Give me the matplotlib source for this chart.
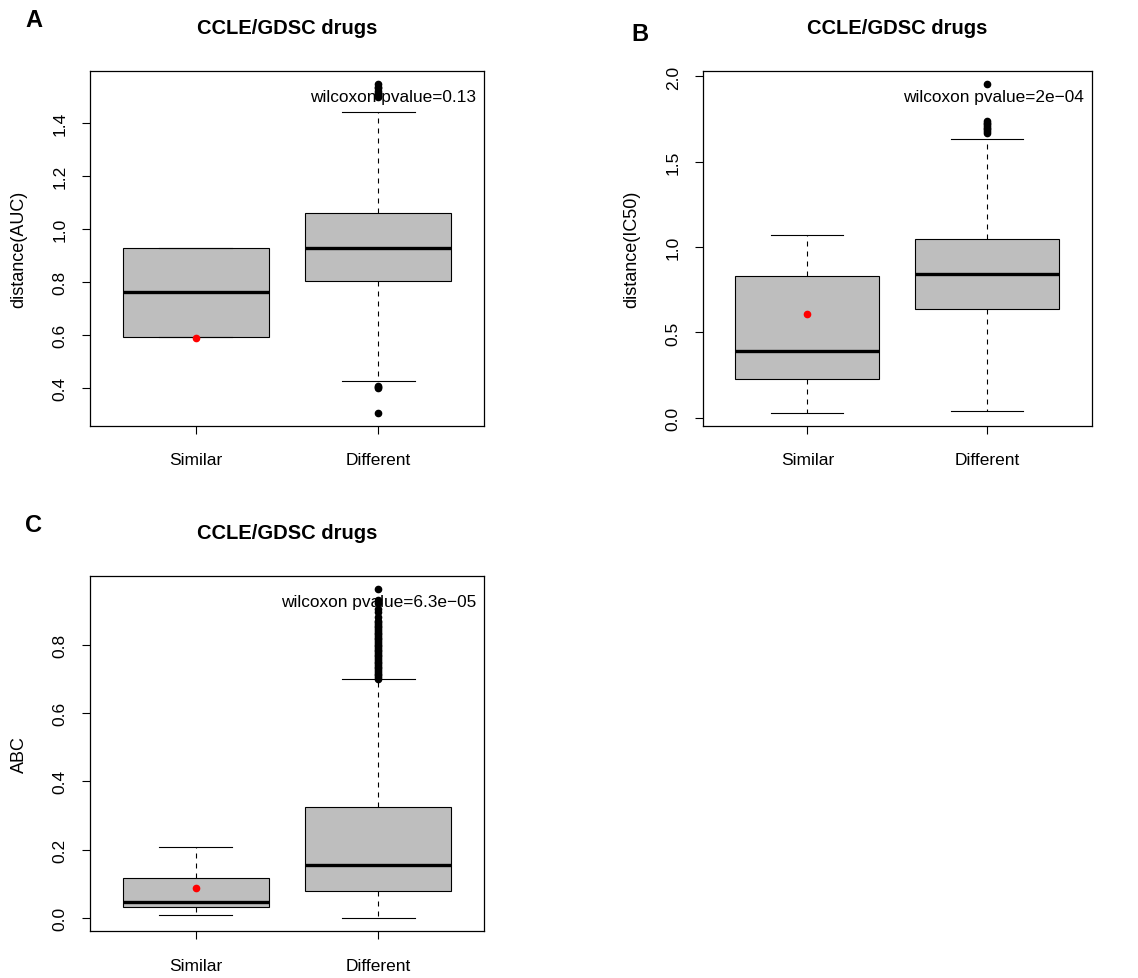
import numpy as np
import matplotlib
matplotlib.use("Agg")
import matplotlib.pyplot as plt

plt.rcParams['font.family'] = ['Liberation Sans', 'DejaVu Sans']

groups = ['Similar', 'Different']
title = 'CCLE/GDSC drugs'

# five-number summaries per panel: (whislo, q1, med, q3, whishi)
auc_similar = (0.594, 0.594, 0.761, 0.928, 0.928)
auc_different = (0.428, 0.803, 0.928, 1.059, 1.439)
auc_fliers = [1.545, 1.535, 1.53, 1.52, 1.51, 1.50, 1.495, 0.41, 0.405, 0.40, 0.307]
auc_red = 0.589
auc_pval = 'wilcoxon pvalue=0.13'

ic50_similar = (0.029, 0.227, 0.390, 0.830, 1.071)
ic50_different = (0.039, 0.638, 0.841, 1.046, 1.633)
ic50_fliers = [1.955, 1.74, 1.73, 1.72, 1.71, 1.70, 1.69, 1.68, 1.67]
ic50_red = 0.611
ic50_pval = 'wilcoxon pvalue=2e\u221204'

abc_similar = (0.010, 0.032, 0.047, 0.117, 0.209)
abc_different = (0.0, 0.078, 0.154, 0.325, 0.698)
abc_fliers = [0.961, 0.93, 0.92, 0.905, 0.895, 0.88, 0.87,
              0.865, 0.86, 0.855, 0.85, 0.845, 0.84, 0.835, 0.83, 0.825,
              0.82, 0.815, 0.81, 0.805, 0.80, 0.795, 0.79, 0.785, 0.78,
              0.775, 0.77, 0.765, 0.76, 0.755, 0.75, 0.745, 0.74, 0.735,
              0.73, 0.725, 0.72, 0.715, 0.71, 0.705, 0.70]
abc_red = 0.089
abc_pval = 'wilcoxon pvalue=6.3e\u221205'

W, H = 1138, 979
fig = plt.figure(figsize=(W / 100, H / 100), dpi=100)


def stats(five, fliers, label):
    lo, q1, med, q3, hi = five
    return dict(whislo=lo, q1=q1, med=med, q3=q3, whishi=hi,
                fliers=np.array(fliers), label=label)


def panel(rect_px, letter, letter_px, ylabel, sim, diff, fliers, red, pval, yticks):
    x0, y0, x1, y1 = rect_px
    ax = fig.add_axes([x0 / W, 1 - y1 / H, (x1 - x0) / W, (y1 - y0) / H])
    bs = [stats(sim, [], groups[0]), stats(diff, fliers, groups[1])]
    ax.bxp(bs, positions=[1, 2], widths=0.8, patch_artist=True,
           boxprops=dict(facecolor='#bebebe', edgecolor='black', linewidth=0.8),
           medianprops=dict(color='black', linewidth=2.4, solid_capstyle='butt'),
           whiskerprops=dict(color='black', linewidth=0.8, dashes=(4.5, 4.5)),
           capprops=dict(color='black', linewidth=0.8),
           flierprops=dict(marker='o', markerfacecolor='black',
                           markeredgecolor='black', markersize=4.5))
    ax.plot([1], [red], 'o', color='red', markersize=4.5, zorder=5)
    ax.set_xlim(0.42, 2.58)
    ax.margins(y=0.04)
    ax.set_yticks(yticks)
    ax.set_yticklabels([f'{t:.1f}' for t in yticks], rotation=90, va='center')
    ax.tick_params(axis='both', labelsize=12.5, length=6, width=0.8, direction='out')
    ax.tick_params(axis='y', pad=10)
    ax.tick_params(axis='x', pad=13)
    for s in ax.spines.values():
        s.set_linewidth(0.9)
    ax.set_ylabel(ylabel, fontsize=13, va='center')
    ax.yaxis.set_label_coords(-71 / (x1 - x0), 0.5)
    ax.text(0.5, 1 + 38.5 / (y1 - y0), title, transform=ax.transAxes,
            ha='center', va='baseline', fontsize=14.5, fontweight='bold')
    ax.text(1 - 8 / (x1 - x0), 1 - 30 / (y1 - y0), pval, transform=ax.transAxes,
            ha='right', va='baseline', fontsize=12.4)
    fig.text(letter_px[0] / W, 1 - letter_px[1] / H, letter, ha='left',
             va='baseline', fontsize=17, fontweight='bold')
    return ax


panel((90, 72, 484, 427), 'A', (25, 27.3), 'distance(AUC)',
      auc_similar, auc_different, auc_fliers, auc_red, auc_pval,
      [0.4, 0.6, 0.8, 1.0, 1.2, 1.4])
panel((703, 72, 1091.7, 427), 'B', (631, 40.7), 'distance(IC50)',
      ic50_similar, ic50_different, ic50_fliers, ic50_red, ic50_pval,
      [0.0, 0.5, 1.0, 1.5, 2.0])
panel((90, 577.3, 484, 932.3), 'C', (25, 532.3), 'ABC',
      abc_similar, abc_different, abc_fliers, abc_red, abc_pval,
      [0.0, 0.2, 0.4, 0.6, 0.8])

fig.savefig('out.png', dpi=100, facecolor='white')
